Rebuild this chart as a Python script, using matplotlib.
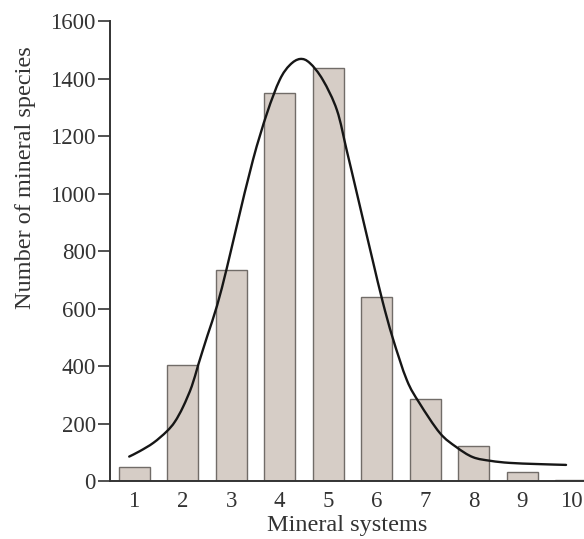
import matplotlib
matplotlib.use('Agg')
import matplotlib.pyplot as plt
from matplotlib.path import Path
from matplotlib.patches import PathPatch

# mineral systems (categories) and number of species per system
systems = [1, 2, 3, 4, 5, 6, 7, 8, 9, 10]
species = [50, 403, 734, 1348, 1437, 640, 285, 121, 32, 5]

# trend curve
curve_x = [0.9, 1.12, 1.4, 1.67, 1.84, 2.01, 2.19, 2.32, 2.51, 2.71, 2.91, 3.12,
           3.45, 3.74, 4.0, 4.21, 4.42, 4.62, 4.89, 5.18, 5.38, 5.55, 5.71,
           5.92, 6.12, 6.33, 6.62, 6.88, 7.3, 7.64, 7.98, 8.35, 8.74, 9.3, 9.9]
curve_y = [85, 104, 133, 172, 206, 258, 330, 403, 505, 610, 740, 890,
           1117, 1280, 1395, 1447, 1468, 1454, 1395, 1290, 1151, 1030, 915,
           765, 625, 497, 351, 271, 167, 118, 83, 70, 63, 59, 56]

yticks = [0, 200, 400, 600, 800, 1000, 1200, 1400, 1600]


def smooth_path(xs, ys):
    # Catmull-Rom through the read points, drawn as cubic Bezier segments
    pts = list(zip(xs, ys))
    verts = [pts[0]]
    codes = [Path.MOVETO]
    for i in range(len(pts) - 1):
        p0 = pts[i - 1] if i > 0 else pts[i]
        p1, p2 = pts[i], pts[i + 1]
        p3 = pts[i + 2] if i + 2 < len(pts) else pts[i + 1]
        c1 = (p1[0] + (p2[0] - p0[0]) / 6, p1[1] + (p2[1] - p0[1]) / 6)
        c2 = (p2[0] - (p3[0] - p1[0]) / 6, p2[1] - (p3[1] - p1[1]) / 6)
        verts += [c1, c2, p2]
        codes += [Path.CURVE4] * 3
    return Path(verts, codes)


plt.rcParams['font.family'] = ['Liberation Serif', 'DejaVu Serif']

fig = plt.figure(figsize=(5.84, 5.39), dpi=100)
ax = fig.add_axes([0.188, 0.1076, 0.812, 0.8534])

ax.bar(systems, species, width=0.64, color='#d6cdc6', edgecolor='#716c68', linewidth=1.0, zorder=2)
ax.add_patch(PathPatch(smooth_path(curve_x, curve_y), fill=False, edgecolor='#161616',
                       linewidth=1.7, capstyle='round', zorder=3))

ax.set_xlim(0.5, 10.27)
ax.set_ylim(0, 1600)
ax.set_xticks(systems)
ax.set_yticks(yticks)
ax.tick_params(axis='x', length=0, pad=7, labelsize=16.5, colors='#333333')
ax.tick_params(axis='y', length=9, width=1.2, pad=1, labelsize=16.5, colors='#333333')

for side in ('top', 'right'):
    ax.spines[side].set_visible(False)
for side in ('left', 'bottom'):
    ax.spines[side].set_linewidth(1.4)
    ax.spines[side].set_color('#333333')

ax.set_xlabel('Mineral systems', fontsize=17.5, color='#333333', labelpad=2)
ax.set_ylabel('Number of mineral species', fontsize=17.5, color='#333333')
ax.yaxis.set_label_coords(-0.155, 0.66)

fig.savefig('out.png', dpi=100)
